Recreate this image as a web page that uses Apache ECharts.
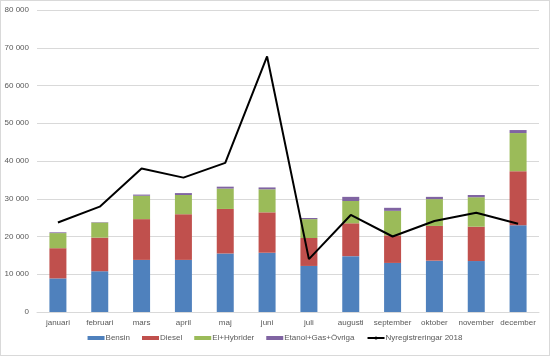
<!DOCTYPE html>
<html>
<head>
<meta charset="utf-8">
<script src="https://cdn.jsdelivr.net/npm/echarts@6/dist/echarts.min.js"></script>
<style>
html,body{margin:0;padding:0;background:#fff;}
#c{width:550px;height:356px;box-sizing:border-box;border:1px solid #d9d9d9;}
</style>
</head>
<body>
<div id="c"></div>
<script>
const categories = ['januari','februari','mars','april','maj','juni','juli','augusti','september','oktober','november','december'];
const bensin  = [8900,10800,13800,13800,15500,15700,12200,14800,13000,13600,13500,23000];
const diesel  = [8000,8900,10800,12100,11800,10700,7400,8700,7300,9200,9100,14300];
const elHybrid= [4000,4000,6200,5100,5400,6100,5000,5900,6500,7100,7800,10100];
const etanol  = [200,100,300,500,500,500,300,1100,800,600,600,800];
const nyreg2018 = [23700,27900,38000,35600,39500,67700,14000,25700,20000,24100,26300,23400];
const seriesNames = ['Bensin','Diesel','El+Hybrider','Etanol+Gas+Övriga','Nyregistreringar 2018'];
const yMin = 0, yMax = 80000, yStep = 10000;

const fmt = v => String(v).replace(/\B(?=(\d{3})+(?!\d))/g, ' ');
const font = "'Liberation Sans', Arial, sans-serif";
const colors = ['#4f81bd','#c0504d','#9bbb59','#8064a2','#000000'];

const chart = echarts.init(document.getElementById('c'));
const barSeries = [bensin, diesel, elHybrid, etanol].map((d, i) => ({
  name: seriesNames[i], type: 'bar', stack: 'total', data: d, barWidth: 17,
  itemStyle: { color: colors[i] }
}));
chart.setOption({
  animation: false,
  color: colors,
  grid: { left: 36, right: 10, top: 9, bottom: 43, containLabel: false },
  legend: {
    bottom: 8, left: 'center', itemWidth: 17, itemHeight: 4, itemGap: 12,
    textStyle: { fontFamily: font, fontSize: 8, color: '#595959', padding: [0,0,0,-4] },
    data: seriesNames.map((n, i) => i < 4 ? { name: n, icon: 'rect' } : { name: n })
  },
  xAxis: {
    type: 'category', data: categories,
    axisLine: { lineStyle: { color: '#d9d9d9' } },
    axisTick: { show: false },
    axisLabel: { fontFamily: font, fontSize: 8, color: '#595959', margin: 7, interval: 0 }
  },
  yAxis: {
    type: 'value', min: yMin, max: yMax, interval: yStep,
    axisLine: { show: false }, axisTick: { show: false },
    splitLine: { lineStyle: { color: '#d9d9d9', width: 1 } },
    axisLabel: { fontFamily: font, fontSize: 8, color: '#595959', margin: 8, formatter: fmt }
  },
  series: barSeries.concat([{
    name: seriesNames[4], type: 'line', data: nyreg2018, symbol: 'none',
    lineStyle: { color: '#000', width: 2 }, itemStyle: { color: '#000' }, z: 5
  }])
});
</script>
</body>
</html>
